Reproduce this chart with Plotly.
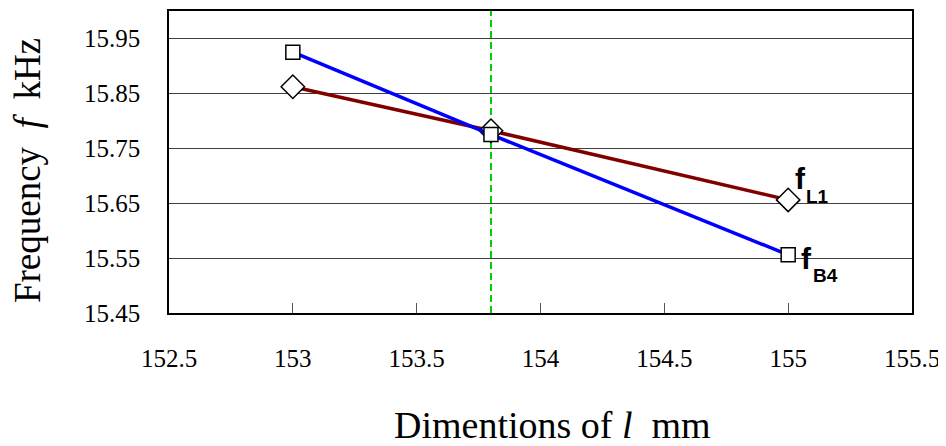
import plotly.graph_objects as go

dims = [153, 153.8, 155]
f_B4 = [15.925, 15.775, 15.556]
f_L1 = [15.862, 15.782, 15.656]
design_dim = 153.8
x_ticks = [152.5, 153, 153.5, 154, 154.5, 155, 155.5]
y_ticks = [15.45, 15.55, 15.65, 15.75, 15.85, 15.95]

fig = go.Figure()
fig.add_trace(go.Scatter(
    x=[design_dim, design_dim], y=[15.45, 16.0], mode="lines",
    line=dict(color="#00cc00", width=2, dash="7px,4px"), showlegend=False, hoverinfo="skip"))
fig.add_trace(go.Scatter(
    x=dims, y=f_L1, mode="lines+markers", name="fL1",
    line=dict(color="#800000", width=3.5),
    marker=dict(symbol="diamond", size=18, color="white", line=dict(color="black", width=1.5)),
    showlegend=False))
fig.add_trace(go.Scatter(
    x=dims, y=f_B4, mode="lines+markers", name="fB4",
    line=dict(color="#0000ff", width=3.5),
    marker=dict(symbol="square", size=14, color="white", line=dict(color="black", width=1.5)),
    showlegend=False))

sans = "Liberation Sans, Arial"
labels = [
    (f_L1[-1], "<b>f</b>", 30, 5, 21),
    (f_L1[-1], "<b>L1</b>", 19, 16, 3),
    (f_B4[-1], "<b>f</b>", 30, 11, -4),
    (f_B4[-1], "<b>B4</b>", 19, 23, -21),
]
for yv, txt, sz, xs, ys in labels:
    fig.add_annotation(x=dims[-1], y=yv, xref="x", yref="y", text=txt,
                       showarrow=False, xanchor="left", yanchor="middle", xshift=xs, yshift=ys,
                       font=dict(family=sans, size=sz, color="black"))

serif = "Liberation Serif, Times New Roman, serif"
# axis titles placed as annotations for exact positioning
fig.add_annotation(x=0, y=0.47, xref="paper", yref="paper", text="Frequency  <i>f</i>  kHz",
                   textangle=-90, showarrow=False, xanchor="center", yanchor="middle", xshift=-142,
                   font=dict(family=serif, size=37, color="black"))
fig.add_annotation(x=0.5155, y=0, xref="paper", yref="paper", text="Dimentions of <i>l</i>  mm",
                   showarrow=False, xanchor="center", yanchor="middle", yshift=-112,
                   font=dict(family=serif, size=38, color="black"))

fig.update_layout(
    width=946, height=438,
    margin=dict(l=161, r=42, t=1, b=133),
    paper_bgcolor="white", plot_bgcolor="white",
    font=dict(family=serif, color="black"),
    xaxis=dict(range=[152.5, 155.5], tickvals=x_ticks, ticktext=[f"{v:g}" for v in x_ticks],
               ticks="inside", ticklen=10, tickcolor="#555", showgrid=False, zeroline=False,
               showline=True, linecolor="black", linewidth=1.5, mirror=True,
               tickfont=dict(family=serif, size=25), ticklabelstandoff=22),
    yaxis=dict(range=[15.45, 16.0], tickvals=y_ticks, ticktext=[f"{v:.2f}" for v in y_ticks],
               ticks="", showgrid=True, gridcolor="#404040", gridwidth=1, zeroline=False,
               showline=True, linecolor="black", linewidth=1.5, mirror=True,
               tickfont=dict(family=serif, size=25), ticklabelstandoff=22),
)
fig.write_html("out.html")
